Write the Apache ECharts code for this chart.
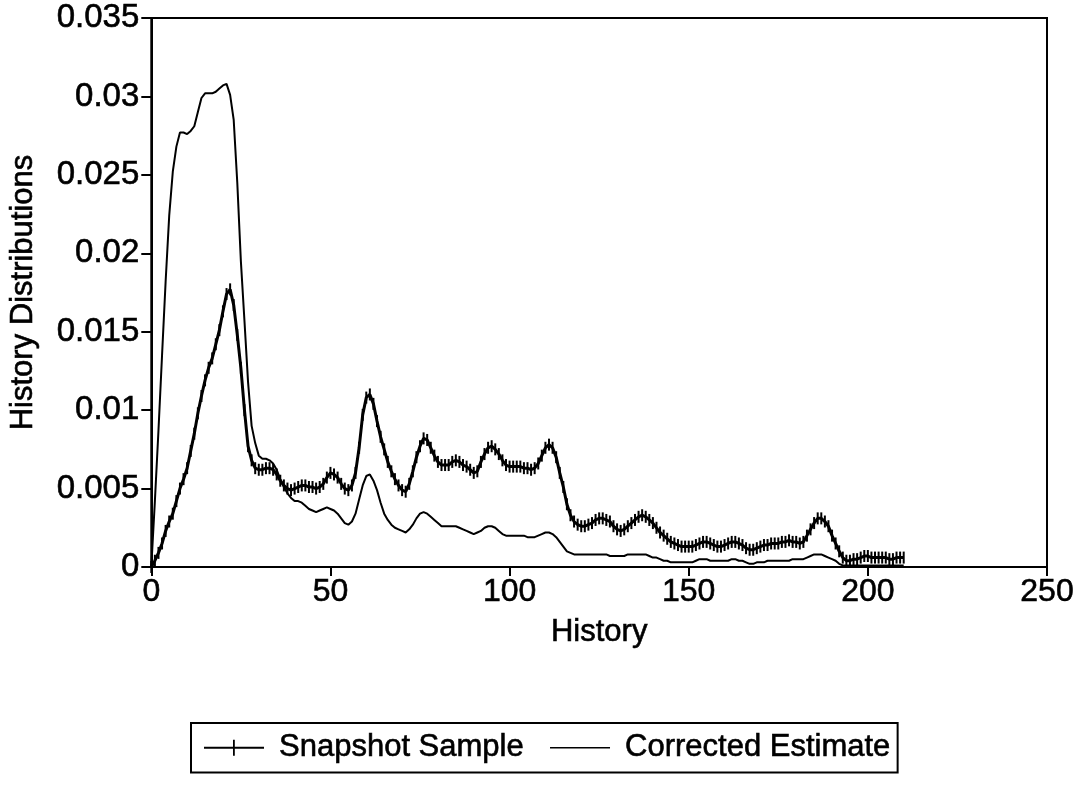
<!DOCTYPE html>
<html>
<head>
<meta charset="utf-8">
<script src="https://cdn.jsdelivr.net/npm/echarts@6/dist/echarts.min.js"></script>
<style>
html,body{margin:0;padding:0;background:#fff;}
#chart{width:1088px;height:786px;}
</style>
</head>
<body>
<div id="chart"></div>
<script>
// History values 0..210 (one point per history step)
const snapshotSample = [
0.0000,0.0004,0.0009,0.0015,0.0023,0.0029,0.0034,0.0042,0.0050,0.0056,
0.0063,0.0074,0.0085,0.0098,0.0109,0.0119,0.0127,0.0133,0.0142,0.0151,
0.0163,0.0174,0.0177,0.0167,0.0148,0.0127,0.0100,0.0077,0.0068,0.0063,
0.0062,0.0062,0.0063,0.0063,0.0062,0.0059,0.0055,0.0052,0.0050,0.0049,
0.0050,0.0051,0.0052,0.0052,0.0051,0.0051,0.0050,0.0051,0.0053,0.0057,
0.0060,0.0059,0.0057,0.0053,0.0050,0.0049,0.0052,0.0060,0.0076,0.0097,
0.0108,0.0110,0.0104,0.0093,0.0083,0.0075,0.0067,0.0061,0.0056,0.0052,
0.0049,0.0048,0.0053,0.0061,0.0070,0.0077,0.0082,0.0081,0.0076,0.0071,
0.0067,0.0065,0.0065,0.0065,0.0067,0.0068,0.0067,0.0065,0.0064,0.0062,
0.0060,0.0061,0.0067,0.0072,0.0076,0.0077,0.0075,0.0072,0.0068,0.0065,
0.0064,0.0064,0.0064,0.0064,0.0063,0.0063,0.0062,0.0063,0.0066,0.0071,
0.0076,0.0078,0.0076,0.0070,0.0060,0.0051,0.0040,0.0033,0.0029,0.0027,
0.0026,0.0026,0.0027,0.0028,0.0030,0.0031,0.0031,0.0030,0.0029,0.0026,
0.0024,0.0023,0.0024,0.0026,0.0028,0.0030,0.0032,0.0033,0.0032,0.0030,
0.0028,0.0025,0.0022,0.0020,0.0018,0.0016,0.0015,0.0014,0.0013,0.0013,
0.0013,0.0013,0.0014,0.0015,0.0016,0.0016,0.0015,0.0014,0.0013,0.0013,
0.0014,0.0015,0.0016,0.0016,0.0015,0.0014,0.0012,0.0011,0.0011,0.0012,
0.0013,0.0014,0.0014,0.0015,0.0015,0.0015,0.0016,0.0016,0.0017,0.0016,
0.0016,0.0015,0.0016,0.0020,0.0024,0.0028,0.0031,0.0031,0.0029,0.0026,
0.0020,0.0015,0.0010,0.0006,0.0004,0.0004,0.0005,0.0005,0.0006,0.0007,
0.0007,0.0006,0.0006,0.0006,0.0006,0.0006,0.0005,0.0005,0.0006,0.0006,
0.0006
];
const correctedEstimate = [
0.0000,0.0042,0.0087,0.0135,0.0182,0.0224,0.0252,0.0268,0.0277,0.0277,
0.0276,0.0278,0.0281,0.0290,0.0299,0.0302,0.0302,0.0302,0.0303,0.0305,
0.0307,0.0308,0.0301,0.0285,0.0245,0.0195,0.0157,0.0118,0.0090,0.0079,
0.0071,0.0069,0.0069,0.0068,0.0066,0.0062,0.0056,0.0051,0.0047,0.0044,
0.0042,0.0042,0.0041,0.0039,0.0037,0.0036,0.0035,0.0036,0.0037,0.0038,
0.0037,0.0036,0.0034,0.0031,0.0028,0.0027,0.0029,0.0034,0.0043,0.0052,
0.0058,0.0059,0.0055,0.0049,0.0041,0.0034,0.0030,0.0027,0.0025,0.0024,
0.0023,0.0022,0.0024,0.0027,0.0031,0.0034,0.0035,0.0034,0.0032,0.0030,
0.0028,0.0026,0.0026,0.0026,0.0026,0.0026,0.0025,0.0024,0.0023,0.0022,
0.0021,0.0022,0.0023,0.0025,0.0026,0.0026,0.0025,0.0023,0.0021,0.0020,
0.0020,0.0020,0.0020,0.0020,0.0020,0.0019,0.0019,0.0019,0.0020,0.0021,
0.0022,0.0022,0.0021,0.0019,0.0016,0.0013,0.0010,0.0009,0.0008,0.0008,
0.0008,0.0008,0.0008,0.0008,0.0008,0.0008,0.0008,0.0008,0.0007,0.0007,
0.0007,0.0007,0.0007,0.0008,0.0008,0.0008,0.0008,0.0008,0.0008,0.0007,
0.0006,0.0006,0.0005,0.0004,0.0004,0.0003,0.0003,0.0003,0.0003,0.0003,
0.0003,0.0003,0.0004,0.0005,0.0005,0.0005,0.0004,0.0004,0.0004,0.0004,
0.0004,0.0004,0.0005,0.0005,0.0004,0.0004,0.0003,0.0002,0.0002,0.0003,
0.0003,0.0003,0.0004,0.0004,0.0004,0.0004,0.0004,0.0004,0.0004,0.0005,
0.0005,0.0005,0.0005,0.0006,0.0007,0.0008,0.0008,0.0008,0.0007,0.0006,
0.0005,0.0004,0.0002,0.0001,0.0001,0.0001,0.0001,0.0001,0.0001,0.0001,
0.0001,0.0001,0.0001,0.0001,0.0001,0.0001,0.0001,0.0001,0.0001,0.0001,
0.0001
];
const historySteps = snapshotSample.map((_, i) => i);
const seriesNames = ['Snapshot Sample', 'Corrected Estimate'];
const xTicks = [0, 50, 100, 150, 200, 250];
const yTicks = [0, 0.005, 0.01, 0.015, 0.02, 0.025, 0.03, 0.035];

const FONT = '"Liberation Sans", Arial, Helvetica, sans-serif';
const heavy = {textBorderColor: '#000', textBorderWidth: 0.6};
const chart = echarts.init(document.getElementById('chart'), null, {renderer: 'canvas'});
chart.setOption({
  backgroundColor: '#fff',
  animation: false,
  grid: {left: 150, right: 41, top: 18, bottom: 219, show: true, borderColor: '#000', borderWidth: 2, backgroundColor: 'transparent'},
  xAxis: {
    type: 'value', min: xTicks[0], max: xTicks[xTicks.length - 1], interval: 50,
    name: 'History', nameLocation: 'middle', nameGap: 50,
    nameTextStyle: Object.assign({fontFamily: FONT, fontSize: 31, color: '#000'}, heavy),
    axisLine: {lineStyle: {color: '#000', width: 2}},
    axisTick: {inside: false, length: 9, lineStyle: {color: '#000', width: 2}},
    axisLabel: Object.assign({fontFamily: FONT, fontSize: 32, color: '#000', margin: 9}, heavy),
    splitLine: {show: false}
  },
  yAxis: {
    type: 'value', min: yTicks[0], max: yTicks[yTicks.length - 1], interval: 0.005,
    name: 'History Distributions', nameLocation: 'middle', nameGap: 112,
    nameTextStyle: Object.assign({fontFamily: FONT, fontSize: 31, color: '#000'}, heavy),
    axisLine: {lineStyle: {color: '#000', width: 2}},
    axisTick: {inside: false, length: 10, lineStyle: {color: '#000', width: 2}},
    axisLabel: Object.assign({fontFamily: FONT, fontSize: 33, color: '#000', margin: 12,
      formatter: v => String(+v.toFixed(3))}, heavy),
    splitLine: {show: false}
  },
  legend: {
    left: 191, top: 723,
    padding: [9, 7, 9, 13],
    borderColor: '#000', borderWidth: 2,
    itemWidth: 60, itemHeight: 16, itemGap: 26,
    textStyle: Object.assign({fontFamily: FONT, fontSize: 31, color: '#000', padding: [0, 0, 0, 10]}, heavy),
    data: [
      {name: seriesNames[0], icon: 'path://M0,7L60,7L60,9L0,9Z M29,0L30.8,0L30.8,16L29,16Z'},
      {name: seriesNames[1], icon: 'path://M0,7.3L60,7.3L60,8.7L0,8.7Z'}
    ]
  },
  series: [
    {
      name: seriesNames[0], type: 'line',
      data: historySteps.map((x, i) => [x, snapshotSample[i]]),
      symbol: 'rect', symbolSize: [2, 12], showSymbol: true,
      itemStyle: {color: '#000'},
      lineStyle: {color: '#000', width: 3},
      z: 3
    },
    {
      name: seriesNames[1], type: 'line',
      data: historySteps.map((x, i) => [x, correctedEstimate[i]]),
      symbol: 'none',
      itemStyle: {color: '#000'},
      lineStyle: {color: '#000', width: 2},
      z: 2
    }
  ]
});
</script>
</body>
</html>
